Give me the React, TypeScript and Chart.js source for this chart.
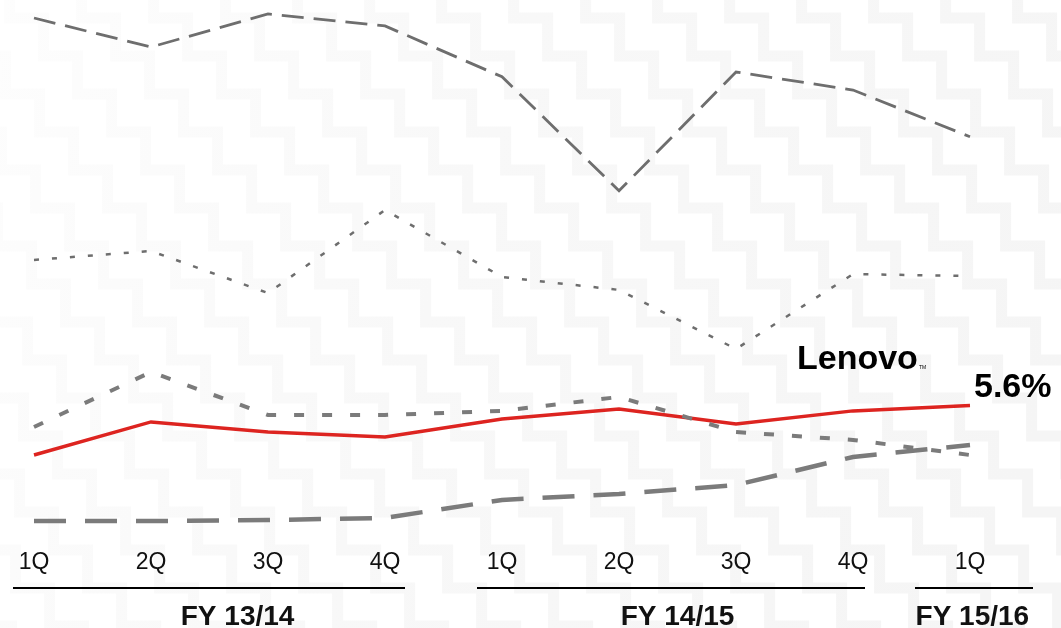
import React, { useEffect, useRef } from "react";
import { Chart, registerables } from "chart.js";

Chart.register(...registerables);

// ---- Data ----
const quarters = ["1Q", "2Q", "3Q", "4Q", "1Q", "2Q", "3Q", "4Q", "1Q"];
const fiscalYears = ["FY 13/14", "FY 14/15", "FY 15/16"];
const fiscalYearStart = [0, 4, 8];
const fiscalYearEnd = [3, 7, 8];

const vendorA = [21.75, 20.54, 21.92, 21.42, 19.3, 14.55, 19.5, 18.75, 16.8];
const vendorB = [11.67, 12.04, 10.29, 13.75, 10.96, 10.42, 7.96, 11.08, 11.0];
const vendorC = [4.71, 7.0, 5.21, 5.21, 5.38, 5.96, 4.5, 4.17, 3.54];
const vendorD = [0.79, 0.79, 0.83, 0.92, 1.67, 1.92, 2.29, 3.46, 3.96];
const lenovo = [3.54, 4.92, 4.5, 4.29, 5.04, 5.46, 4.83, 5.38, 5.6];
const lenovoLabel = "Lenovo";

const FONT = "'Liberation Sans', Arial, Helvetica, sans-serif";

const bgPlugin = {
  id: "bgPattern",
  beforeDraw(chart: any) {
    const { ctx, width, height } = chart;
    ctx.save();
    ctx.fillStyle = "#ffffff";
    ctx.fillRect(0, 0, width, height);
    ctx.lineWidth = 11;
    ctx.lineJoin = "miter";
    const stepX = 34;
    const stepY = 38;
    const gap = 72;
    for (let s = -height * 1.3; s < width + 60; s += gap) {
      ctx.beginPath();
      let x = s;
      let y = -20;
      ctx.moveTo(x, y);
      while (y < height + 40 && x < width + 40) {
        x += stepX;
        ctx.lineTo(x, y);
        y += stepY;
        ctx.lineTo(x, y);
      }
      const grad = ctx.createLinearGradient(0, 0, width, height * 0.6);
      grad.addColorStop(0, "#fdfdfd");
      grad.addColorStop(0.45, "#f8f8f8");
      grad.addColorStop(1, "#f5f5f5");
      ctx.strokeStyle = grad;
      ctx.stroke();
    }
    ctx.restore();
  },
};

const groupLinePad = [
  [-21, 20],
  [-25, 12],
  [-55, 63],
];
const groupLabelPos = [1.74, 5.5, 8.02];

const labelsPlugin = {
  id: "customLabels",
  afterDraw(chart: any) {
    const { ctx, chartArea } = chart;
    const xs = chart.scales.x;
    const n = quarters.length;
    const px = (f: number) => xs.left + (f * (xs.right - xs.left)) / (n - 1);
    const base = chartArea.bottom;
    ctx.save();
    ctx.fillStyle = "#111111";
    ctx.textAlign = "center";
    ctx.textBaseline = "alphabetic";
    ctx.font = `23px ${FONT}`;
    quarters.forEach((q, i) => ctx.fillText(q, xs.getPixelForValue(i), base + 29));

    ctx.strokeStyle = "#000000";
    ctx.lineWidth = 2;
    ctx.font = `bold 28px ${FONT}`;
    fiscalYears.forEach((fy, g) => {
      const x1 = px(fiscalYearStart[g]) + groupLinePad[g][0];
      const x2 = px(fiscalYearEnd[g]) + groupLinePad[g][1];
      ctx.beginPath();
      ctx.moveTo(x1, base + 48);
      ctx.lineTo(x2, base + 48);
      ctx.stroke();
      ctx.fillText(fy, px(groupLabelPos[g]), base + 85);
    });

    // annotation for Lenovo
    const meta = chart.getDatasetMeta(chart.data.datasets.length - 1);
    const last = meta.data[meta.data.length - 1];
    const prev = meta.data[meta.data.length - 2];
    ctx.fillStyle = "#000000";
    ctx.textAlign = "left";
    ctx.font = `bold 34px ${FONT}`;
    ctx.fillText(`${lenovo[lenovo.length - 1].toFixed(1)}%`, last.x + 4, last.y - 9);
    ctx.font = `bold 34px ${FONT}`;
    const lx = prev.x - 56;
    const ly = last.y - 37;
    ctx.fillText(lenovoLabel, lx, ly);
    const w = ctx.measureText(lenovoLabel).width;
    ctx.font = `5px ${FONT}`;
    ctx.fillText("TM", lx + w + 1, ly);
    ctx.restore();
  },
};

export default function App() {
  const ref = useRef<HTMLCanvasElement | null>(null);
  useEffect(() => {
    if (!ref.current) return;
    const gray = "#6e6e6e";
    const gray2 = "#7b7b7b";
    const chart = new Chart(ref.current, {
      type: "line",
      data: {
        labels: quarters,
        datasets: [
          {
            label: "Vendor A",
            data: vendorA,
            borderColor: gray,
            borderWidth: 2.8,
            borderDash: [22, 10],
          },
          {
            label: "Vendor B",
            data: vendorB,
            borderColor: gray,
            borderWidth: 2.5,
            borderDash: [5, 13],
          },
          {
            label: "Vendor C",
            data: vendorC,
            borderColor: gray2,
            borderWidth: 4,
            borderDash: [10, 18],
          },
          {
            label: "Vendor D",
            data: vendorD,
            borderColor: gray2,
            borderWidth: 4.5,
            borderDash: [32, 19],
          },
          {
            label: lenovoLabel,
            data: lenovo,
            borderColor: "#dd2420",
            borderWidth: 3.5,
          },
        ],
      },
      options: {
        responsive: false,
        animation: false,
        devicePixelRatio: 1,
        layout: { padding: { left: 34, right: 91, top: 0, bottom: 88 } },
        elements: {
          point: { radius: 0, hoverRadius: 0 },
          line: { tension: 0, borderCapStyle: "butt", fill: false },
        },
        plugins: { legend: { display: false }, tooltip: { enabled: false } },
        scales: {
          x: { display: false, offset: false },
          y: { display: false, min: 0, max: 22.5 },
        },
      },
      plugins: [bgPlugin, labelsPlugin],
    } as any);
    return () => chart.destroy();
  }, []);
  return (
    <div style={{ position: "absolute", left: 0, top: 0, width: 1061, height: 628 }}>
      <canvas ref={ref} width={1061} height={628} style={{ display: "block" }} />
    </div>
  );
}
